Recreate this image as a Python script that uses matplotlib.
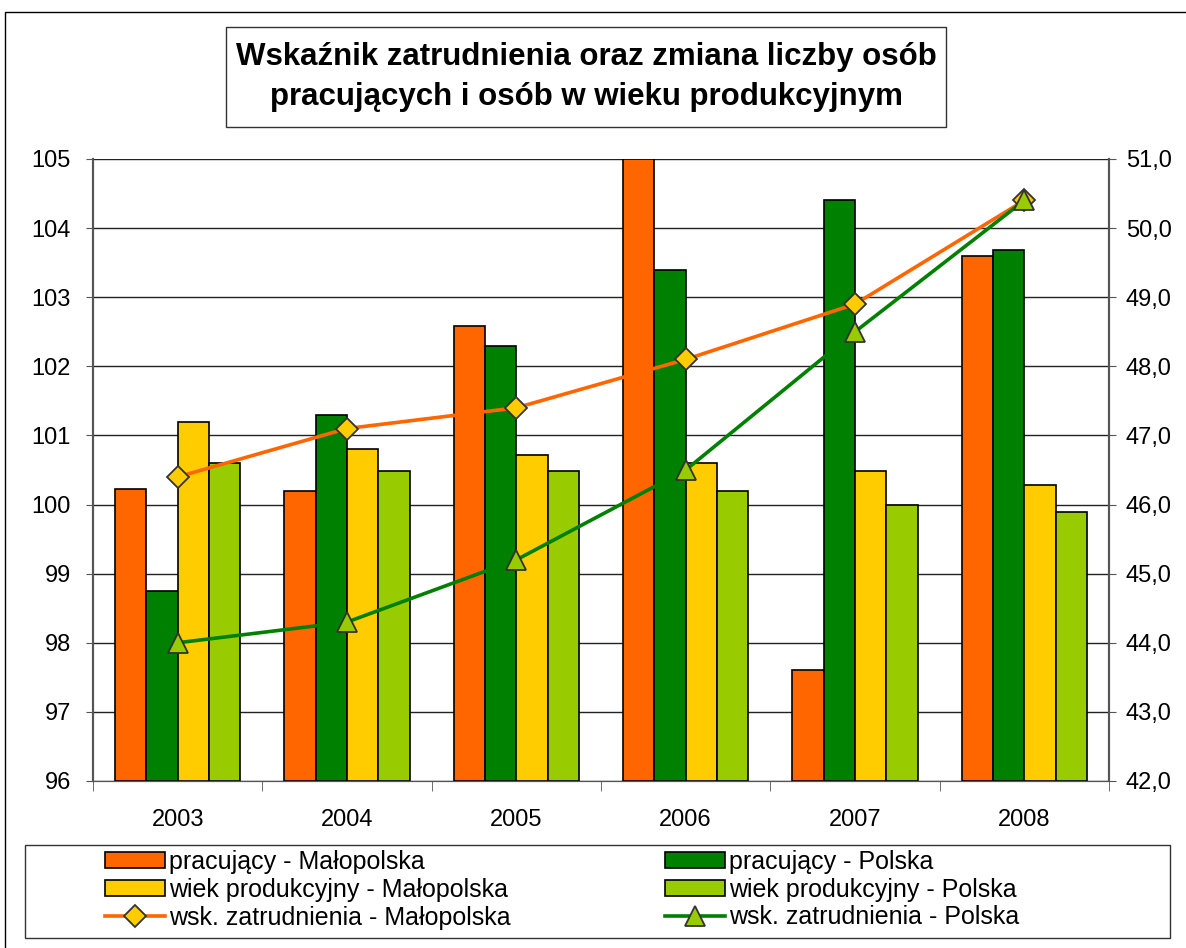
import matplotlib
matplotlib.use("Agg")
import matplotlib.pyplot as plt
import numpy as np
from matplotlib.patches import Rectangle

plt.rcParams['font.family'] = ['Liberation Sans', 'DejaVu Sans']

years = ["2003", "2004", "2005", "2006", "2007", "2008"]
prac_mal = [100.23, 100.2, 102.58, 105.0, 97.6, 103.6]
prac_pol = [98.75, 101.3, 102.3, 103.4, 104.4, 103.69]
wiek_mal = [101.2, 100.8, 100.72, 100.6, 100.48, 100.28]
wiek_pol = [100.6, 100.48, 100.48, 100.2, 100.0, 99.89]
wsk_mal = [46.4, 47.1, 47.4, 48.1, 48.9, 50.4]
wsk_pol = [44.0, 44.3, 45.2, 46.5, 48.5, 50.4]

c_orange = "#FF6600"
c_green = "#008000"
c_yellow = "#FFCC00"
c_lgreen = "#99CC00"

fig = plt.figure(figsize=(11.86, 9.48), dpi=100)
ax = fig.add_axes([93/1186, 1-781/948, (1109-93)/1186, (781-159)/948])
ax2 = ax.twinx()

x = np.arange(len(years))
w = 0.185
base = 96
series = [(prac_mal, c_orange, "pracujący - Małopolska"),
          (prac_pol, c_green, "pracujący - Polska"),
          (wiek_mal, c_yellow, "wiek produkcyjny - Małopolska"),
          (wiek_pol, c_lgreen, "wiek produkcyjny - Polska")]
bars = []
for i, (vals, col, lab) in enumerate(series):
    off = (i - 1.5) * w
    b = ax.bar(x + off, np.array(vals) - base, w, bottom=base, color=col,
               edgecolor="black", linewidth=1.2, label=lab, zorder=3)
    bars.append(b)

l1, = ax2.plot(x, wsk_mal, color=c_orange, lw=2.6, marker="D", ms=11,
               mfc=c_yellow, mec="#333333", mew=1.3, label="wsk. zatrudnienia - Małopolska", zorder=5)
l2, = ax2.plot(x, wsk_pol, color=c_green, lw=2.6, marker="^", ms=15,
               mfc=c_lgreen, mec="#333333", mew=1.3, label="wsk. zatrudnienia - Polska", zorder=5)

ax.set_xlim(-0.5, 5.5)
ax.set_ylim(96, 105)
ax.set_yticks(np.arange(96, 106, 1))
ax2.set_ylim(42, 51)
ax2.set_yticks(np.arange(42, 52, 1))
ax2.set_yticklabels([("%.1f" % v).replace(".", ",") for v in np.arange(42, 52, 1)])

ax.yaxis.grid(True, color="#222222", lw=1.0, zorder=0)
ax.set_axisbelow(True)
ax.set_xticks(x)
ax.set_xticklabels(years)
ax.set_xticks(np.arange(-0.5, 6, 1), minor=True)
ax.tick_params(axis="x", which="major", length=0, pad=20, labelsize=17)
ax.tick_params(axis="x", which="minor", length=7, direction="out", color="#555555")
ax.tick_params(axis="y", length=5, direction="out", pad=11, labelsize=17, color="#555555")
ax2.tick_params(axis="y", length=5, direction="out", pad=7, labelsize=17, color="#555555")

for a in (ax, ax2):
    a.spines["top"].set_visible(False)
    a.spines["left"].set_color("#555555")
    a.spines["right"].set_color("#555555")
    a.spines["bottom"].set_color("#555555")
    a.spines["left"].set_linewidth(1.5)
    a.spines["right"].set_linewidth(1.5)
ax.patch.set_visible(False)
ax2.set_zorder(ax.get_zorder() + 1)
ax2.patch.set_visible(False)

# title box
fig.patches.append(Rectangle((226/1186, 1-127/948), 720/1186, 100/948,
                             transform=fig.transFigure, fill=False,
                             edgecolor="#333333", lw=1.0))
fig.text(586/1186, 1-77/948, "Wskaźnik zatrudnienia oraz zmiana liczby osób\npracujących i osób w wieku produkcyjnym",
         ha="center", va="center", fontsize=22.5, fontweight="bold", linespacing=1.45)

# outer border
fig.patches.append(Rectangle((5/1186, -0.01), 1.02, 1-12/948 + 0.01,
                             transform=fig.transFigure, fill=False,
                             edgecolor="black", lw=1.0))

# legend frame
fig.patches.append(Rectangle((25/1186, 1-938/948), (1170-25)/1186, (938-845)/948,
                             transform=fig.transFigure, fill=False,
                             edgecolor="#333333", lw=1.0))

legkw = dict(ncol=1, loc="upper left", fontsize=18, frameon=False,
             handlelength=2.4, handleheight=0.6, handletextpad=0.15, borderpad=0,
             labelspacing=0.15, borderaxespad=0)
leg1 = fig.legend([bars[0], bars[2], l1], [bars[0].get_label(), bars[2].get_label(), l1.get_label()],
                  bbox_to_anchor=(105/1186, 1-850/948), **legkw)
leg2 = fig.legend([bars[1], bars[3], l2], [bars[1].get_label(), bars[3].get_label(), l2.get_label()],
                  bbox_to_anchor=(665/1186, 1-850/948), **legkw)

fig.savefig("out.png", dpi=100)
